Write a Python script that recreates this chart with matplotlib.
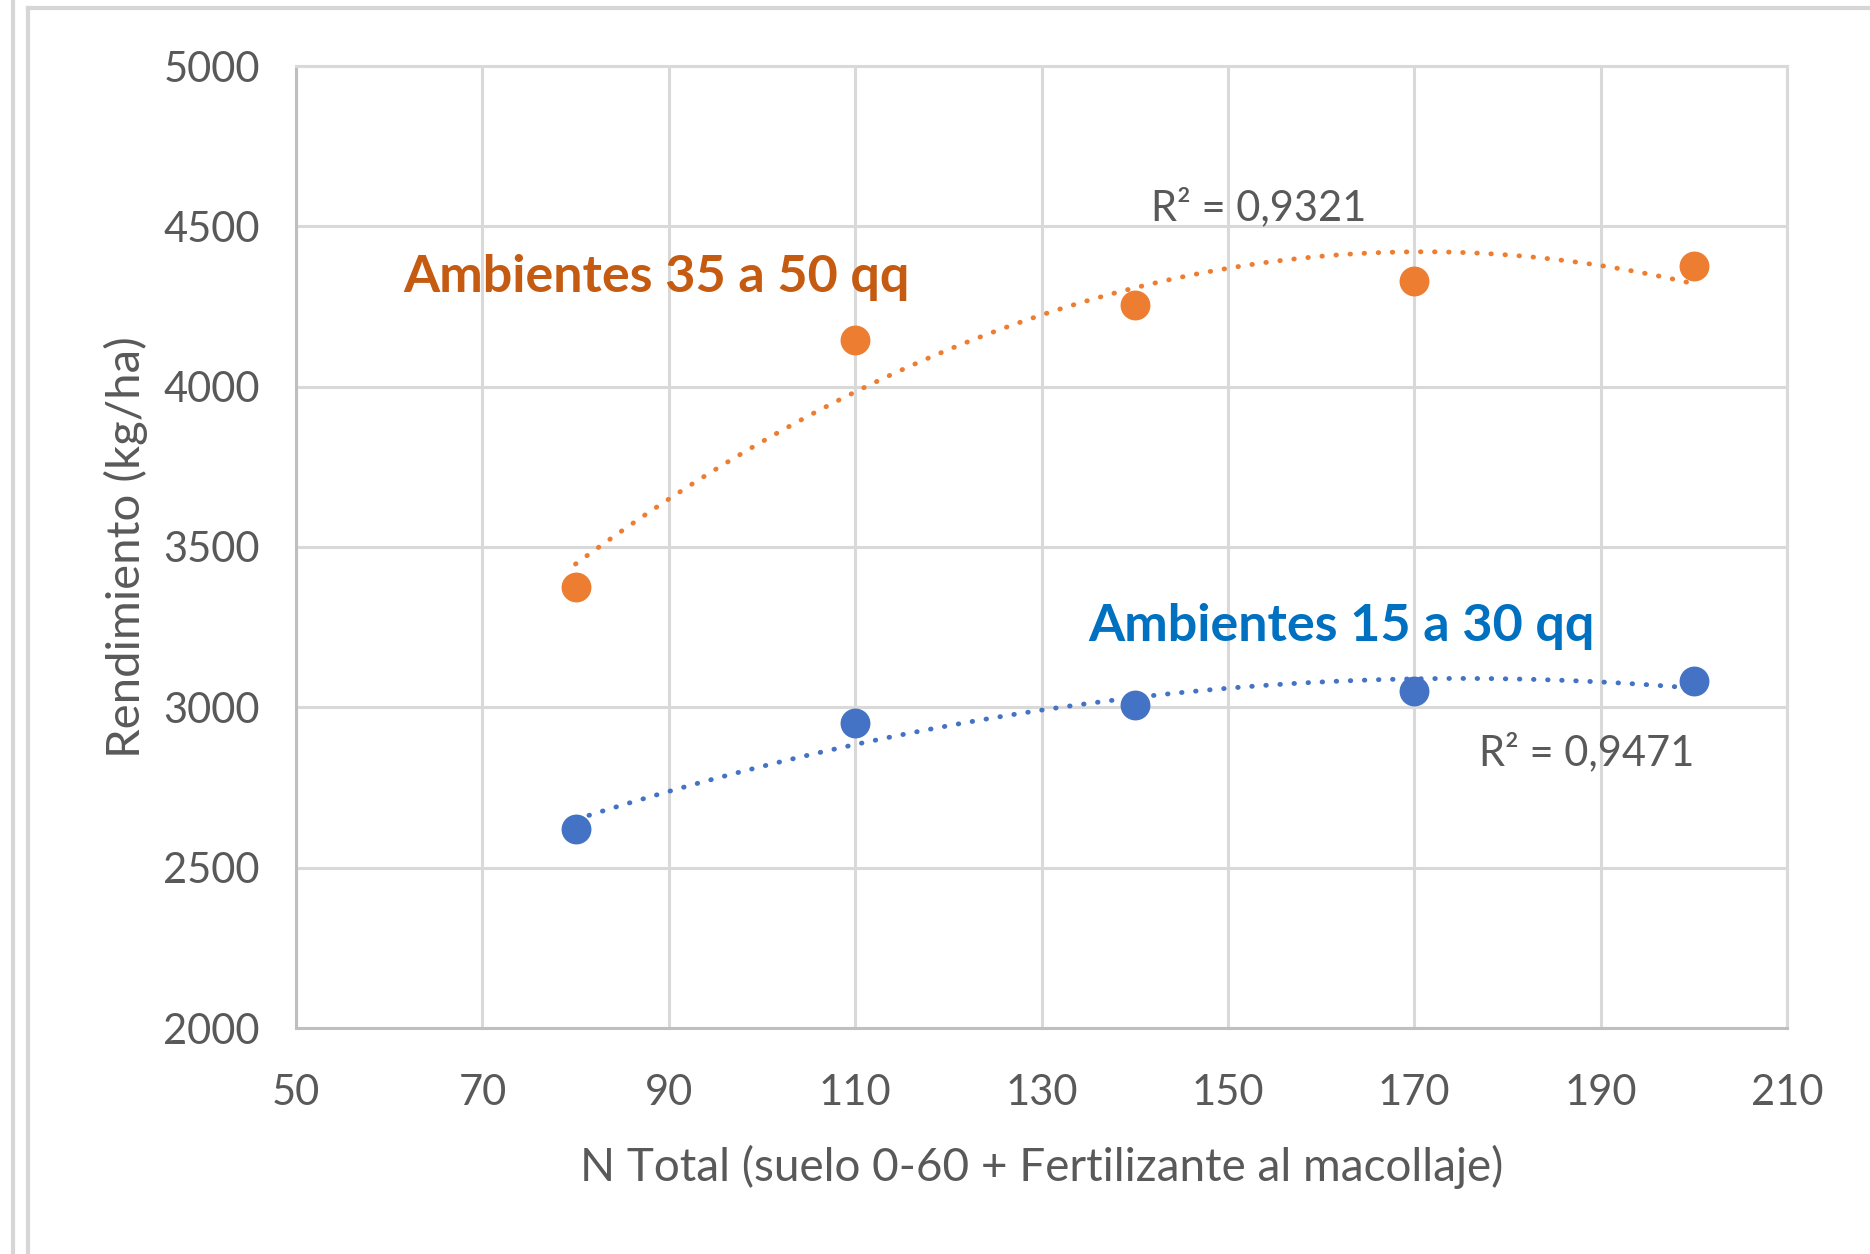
import numpy as np
import matplotlib.pyplot as plt
from matplotlib.lines import Line2D

plt.rcParams['font.family'] = ['Lato', 'DejaVu Sans']

n_total = [80, 110, 140, 170, 200]
rend_alto = [3375, 4145, 4255, 4330, 4375]   # Ambientes 35 a 50 qq
rend_bajo = [2620, 2952, 3007, 3052, 3082]   # Ambientes 15 a 30 qq

x_ticks = [50, 70, 90, 110, 130, 150, 170, 190, 210]
y_ticks = [2000, 2500, 3000, 3500, 4000, 4500, 5000]

orange = '#ED7D31'
orange_txt = '#C55A11'
blue = '#4472C4'
blue_txt = '#0070C0'
grid_c = '#D9D9D9'
txt_c = '#595959'

fig = plt.figure(figsize=(18.7, 12.54), dpi=100)
ax = fig.add_axes([296 / 1870, 1 - 1028 / 1254, (1787 - 296) / 1870, (1028 - 66) / 1254])

# outer frame lines (light gray)
fig.add_artist(Line2D([13 / 1870, 13 / 1870], [0, 1], color='#D6D6D6', lw=3))
fig.add_artist(Line2D([28 / 1870, 28 / 1870], [0, 1 - 8 / 1254], color='#D6D6D6', lw=3))
fig.add_artist(Line2D([28 / 1870, 1], [1 - 8 / 1254, 1 - 8 / 1254], color='#D6D6D6', lw=3))

# trendlines (2nd order polynomial)
xs = np.linspace(80, 200, 200)
for y, c in [(rend_alto, orange), (rend_bajo, blue)]:
    coef = np.polyfit(n_total, y, 2)
    ax.plot(xs, np.polyval(coef, xs), color=c, lw=3.5, linestyle=(0, (0.1, 2.8)),
            dash_capstyle='round', zorder=3)

ax.plot(n_total, rend_alto, 'o', color=orange, markersize=20.5, zorder=4)
ax.plot(n_total, rend_bajo, 'o', color=blue, markersize=20.5, zorder=4)

ax.set_xlim(50, 210)
ax.set_ylim(2000, 5000)
ax.set_xticks(x_ticks)
ax.set_yticks(y_ticks)
ax.grid(True, color=grid_c, lw=2.2)
ax.set_axisbelow(True)
for s in ax.spines.values():
    s.set_color(grid_c)
    s.set_linewidth(2.2)
ax.spines['left'].set_color('#BFBFBF')
ax.spines['bottom'].set_color('#BFBFBF')
ax.tick_params(length=0, labelsize=30, labelcolor=txt_c)
ax.tick_params(axis='x', pad=33)
ax.tick_params(axis='y', pad=26)

ax.set_xlabel('N Total (suelo 0-60 + Fertilizante al macollaje)', fontsize=33, color=txt_c, labelpad=24)
ax.set_ylabel('Rendimiento (kg/ha)', fontsize=34, color=txt_c, labelpad=11)

ax.text(61.5, 4340, 'Ambientes 35 a 50 qq', fontsize=37.5, fontweight='bold', color=orange_txt, va='center')
ax.text(135, 3253, 'Ambientes 15 a 30 qq', fontsize=37.5, fontweight='bold', color=blue_txt, va='center')
ax.text(141.8, 4560, 'R\u00b2 = 0,9321', fontsize=30, color=txt_c, va='center')
ax.text(177, 2860, 'R\u00b2 = 0,9471', fontsize=30, color=txt_c, va='center')

fig.savefig('out.png', dpi=100)
